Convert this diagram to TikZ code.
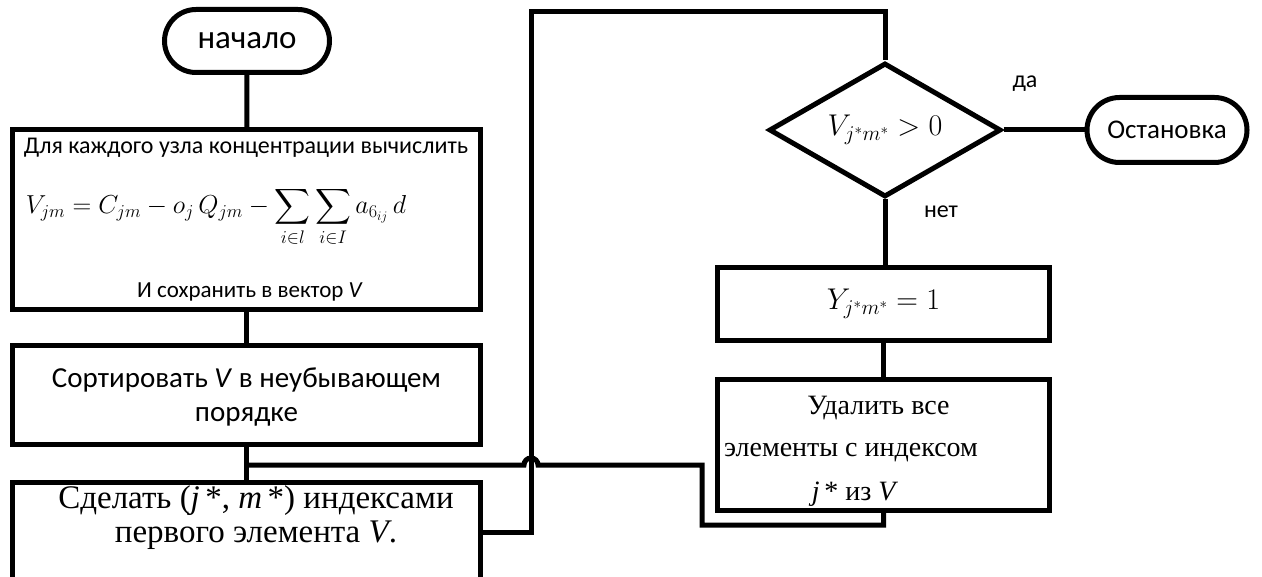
\RequirePackage{fix-cm}
\documentclass[tikz,border=0pt]{standalone}
\usepackage{amsmath}
\usepackage{fontspec}
\setmainfont{Liberation Serif}
\newfontfamily\calfont{Carlito}
\usetikzlibrary{positioning, shapes.geometric, shapes.misc}

% flowchart look
\tikzset{
  flow/.style={line width=5pt},
  block/.style={draw, flow, rectangle, inner sep=0pt, align=center},
  term/.style={draw, flow, rounded rectangle, inner sep=0pt},
  decide/.style={draw, flow, diamond, aspect=1.73, inner sep=0pt},
  sans/.style={font=\calfont\fontsize{#1}{#1}\selectfont},
  serif/.style={font=\fontsize{#1}{#1}\selectfont},
}

\begin{document}
\begin{tikzpicture}[x=1pt, y=-1pt]
\useasboundingbox (0,0) rectangle (1262,577);
\clip (0,0) rectangle (1262,577);

% === Left column ===
\node[term, minimum width=165pt, minimum height=63pt, sans=33] (start) at (247,41) {начало};

\node[block, minimum width=468pt, minimum height=180pt] (calc) at (246.5,219.5) {};
\node[sans=24] (calc1) at (246,148) {Для каждого узла концентрации вычислить};
\node[serif=26] (calc2) at (216,217)
  {$V_{jm} = C_{jm} - o_j\,Q_{jm} - \displaystyle\sum_{i\in l}\sum_{i\in I} a_{6_{ij}}\,d$};
\node[sans=23] (calc3) at (250,292) {И сохранить в вектор \textit{V}};

\node[block, minimum width=468pt, minimum height=99pt, sans=29,
  text depth=0pt] (sortv) at (246.5,395)
  {Сортировать \textit{V} в неубывающем\\[5pt] порядке};

\node[block, minimum width=468pt, minimum height=100pt] (pick) at (246.5,532.5) {};
\node[serif=33, align=center] (pick1) at (256,518)
  {Сделать (\textit{j}\,*, \textit{m}\,*) индексами\\[1pt] первого элемента \textit{V}.};

% === Right column ===
\node[decide, minimum width=232pt, minimum height=134pt, serif=30] (check) at (885,130)
  {$V_{j^*m^*} > 0$};
\node[term, minimum width=160pt, minimum height=65pt, sans=27] (stop) at (1167,130) {Остановка};
\node[block, minimum width=332pt, minimum height=73pt, serif=30] (sety) at (883.5,304)
  {$Y_{j^*m^*} = 1$};
\node[block, minimum width=332pt, minimum height=131pt] (remove) at (883.5,445) {};
\node[serif=28, align=center] (remove1) at (851,451)
  {\hspace*{55pt}Удалить все\\[14pt] элементы с индексом\\[16pt] \hspace*{8pt}\textit{j}\,* из \textit{V}};

\node[sans=24] (yes) at (1025,84) {да};
\node[sans=24] (no) at (941,212) {нет};

% === Connectors ===
\draw[flow] (start) -- (calc);
\draw[flow] (calc) -- (sortv);
\draw[flow] (sortv) -- (pick);
\draw[flow] (check.east) -- (stop.west);
\draw[flow] (check.south) -- (check.south |- sety.north);
\draw[flow] (sety) -- (remove);

% loop up to the test
\coordinate (ltop) at (531,12);
\draw[flow] (pick.east) -| (ltop) -| (check.north);

% loop back, hopping over the vertical line
\coordinate (lbot) at (702,525);
\coordinate (hop) at (538,465);
\draw[flow] (remove.south) |- (lbot) |- (hop)
  arc[start angle=0, end angle=-180, radius=7] -- (sortv.south |- hop);
\end{tikzpicture}
\end{document}
